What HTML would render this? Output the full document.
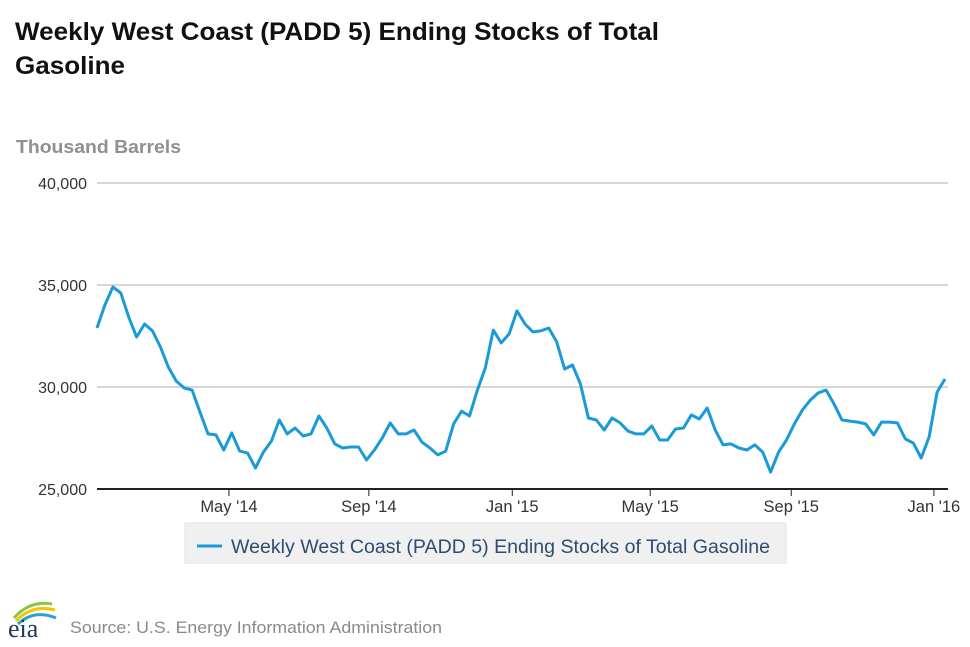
<!DOCTYPE html>
<html><head><meta charset="utf-8"><style>
body{margin:0;background:#fff;font-family:"Liberation Sans",sans-serif;}
svg{display:block}
</style></head><body>
<svg width="970" height="647" viewBox="0 0 970 647">
<text x="15" y="40" font-size="25" font-weight="bold" fill="#111" textLength="644" lengthAdjust="spacingAndGlyphs">Weekly West Coast (PADD 5) Ending Stocks of Total</text>
<text x="15" y="74" font-size="25" font-weight="bold" fill="#111" textLength="110" lengthAdjust="spacingAndGlyphs">Gasoline</text>
<text x="16" y="153" font-size="18" font-weight="bold" fill="#909090" textLength="165" lengthAdjust="spacingAndGlyphs">Thousand Barrels</text>
<g id="grid"></g>
<g id="xaxis"></g>
<polyline id="line" fill="none" stroke="#1a9bd7" stroke-width="3" stroke-linejoin="round"/>
<rect x="185" y="523" width="601" height="40" fill="#f0f0f0" stroke="#e2e2e2"/>
<line x1="197" y1="546" x2="222" y2="546" stroke="#1a9bd7" stroke-width="3"/>
<text x="231" y="553" font-size="19" fill="#2e4d6e" textLength="539" lengthAdjust="spacingAndGlyphs">Weekly West Coast (PADD 5) Ending Stocks of Total Gasoline</text>
<g>
<path d="M14 618 Q30 600 52 604" stroke="#8bc34a" stroke-width="3" fill="none"/>
<path d="M16 621 Q32 604 55 610" stroke="#f2c500" stroke-width="3" fill="none"/>
<path d="M18 624 Q34 609 56 618" stroke="#2aa0d8" stroke-width="3" fill="none"/>
<text x="8" y="637" font-family="Liberation Serif,serif" font-size="26" fill="#1d3a5c">eia</text>
</g>
<text x="70" y="633" font-size="17" fill="#8a8a8a" textLength="372" lengthAdjust="spacingAndGlyphs">Source: U.S. Energy Information Administration</text>
</svg>
<script>
const values=[32890,34020,34900,34610,33430,32450,33090,32750,31960,30980,30290,29950,29850,28770,27700,27650,26910,27750,26860,26760,26030,26810,27350,28380,27700,27990,27600,27700,28580,27990,27210,27010,27060,27060,26420,26910,27500,28240,27700,27700,27890,27300,27010,26670,26860,28190,28820,28580,29850,30930,32790,32160,32600,33730,33090,32700,32750,32890,32210,30880,31080,30150,28480,28380,27890,28480,28240,27840,27700,27700,28090,27400,27400,27940,27990,28630,28430,28970,27890,27160,27210,27010,26910,27160,26810,25830,26810,27400,28190,28870,29360,29710,29850,29170,28380,28330,28280,28190,27650,28280,28280,28240,27450,27250,26520,27550,29750,30390];
const yTicks=[25000,30000,35000,40000];
const yTickLabels=["25,000","30,000","35,000","40,000"];
const xTickIdx=[16.65,34.3,52.4,69.8,87.6,105.6];
const xTickLabels=["May '14","Sep '14","Jan '15","May '15","Sep '15","Jan '16"];
const NS="http://www.w3.org/2000/svg";
const X0=97,X1=945,Y0=489,Y1=183;
function xs(i){return X0+(X1-X0)*i/(values.length-1);}
function ys(v){return Y0-(v-25000)/15000*(Y0-Y1);}
const grid=document.getElementById('grid');
yTicks.forEach((t,k)=>{
  if(k>0){const l=document.createElementNS(NS,'line');
  l.setAttribute('x1',97);l.setAttribute('x2',948);l.setAttribute('y1',ys(t));l.setAttribute('y2',ys(t));
  l.setAttribute('stroke','#c8c8c8');l.setAttribute('stroke-width','1.5');
  
  
  grid.appendChild(l);}
  const tx=document.createElementNS(NS,'text');
  tx.setAttribute('x',87);tx.setAttribute('y',ys(t)+6);tx.setAttribute('text-anchor','end');
  tx.setAttribute('font-size','16');tx.setAttribute('fill','#333');
  tx.textContent=yTickLabels[k];
  
  
  grid.appendChild(tx);
});
const xa=document.getElementById('xaxis');
const ax=document.createElementNS(NS,'line');
ax.setAttribute('x1',97);ax.setAttribute('x2',948);ax.setAttribute('y1',489);ax.setAttribute('y2',489);
ax.setAttribute('stroke','#222');ax.setAttribute('stroke-width','2');


xa.appendChild(ax);
xTickIdx.forEach((t,k)=>{
  const x=xs(t);
  const l=document.createElementNS(NS,'line');
  l.setAttribute('x1',x);l.setAttribute('x2',x);l.setAttribute('y1',488);l.setAttribute('y2',496);
  l.setAttribute('stroke','#222');l.setAttribute('stroke-width','1');
  
  
  xa.appendChild(l);
  const tx=document.createElementNS(NS,'text');
  tx.setAttribute('x',x);tx.setAttribute('y',512);tx.setAttribute('text-anchor','middle');
  tx.setAttribute('font-size','16.5');tx.setAttribute('fill','#333');
  tx.textContent=xTickLabels[k];
  
  
  xa.appendChild(tx);
});
document.getElementById('line').setAttribute('points',values.map((v,i)=>xs(i).toFixed(1)+','+ys(v).toFixed(1)).join(' '));
</script>
</body></html>
